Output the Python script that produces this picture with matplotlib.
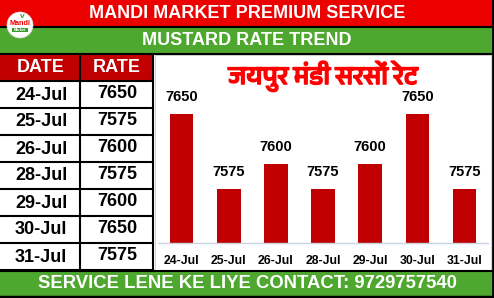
import matplotlib
matplotlib.use("Agg")
import matplotlib.pyplot as plt
from matplotlib.patches import Rectangle, Circle
from matplotlib import font_manager
import matplotlib.patheffects as pe

# data
dates = ["24-Jul", "25-Jul", "26-Jul", "28-Jul", "29-Jul", "30-Jul", "31-Jul"]
rates = [7650, 7575, 7600, 7575, 7600, 7650, 7575]

title_top = "MANDI MARKET PREMIUM SERVICE"
title_sub = "MUSTARD RATE TREND"
chart_title = "जयपुर मंडी सरसों रेट"
footer = "SERVICE LENE KE LIYE CONTACT: 9729757540"

RED = "#ec0000"
DARK_RED = "#c00000"
GREEN = "#4ea72e"

# look for a font that can draw devanagari
deva = []
for f in font_manager.fontManager.ttflist:
    n = f.name.lower()
    if "devanagari" in n or "lohit" in n or "mukta" in n or "mangal" in n or "hind" in n:
        deva.append(f.name)
deva = sorted(set(deva))
hindi_family = deva + ["DejaVu Sans"]

plt.rcParams["font.family"] = ["Liberation Sans", "DejaVu Sans"]

W, H = 494, 298
fig = plt.figure(figsize=(W / 100, H / 100), dpi=100)

# full-figure overlay in pixel coords
bg = fig.add_axes([0, 0, 1, 1])
bg.set_xlim(0, W)
bg.set_ylim(H, 0)
bg.axis("off")

def box(x, y, w, h, fc, ec="none", lw=0, z=1):
    bg.add_patch(Rectangle((x, y), w, h, facecolor=fc, edgecolor=ec, linewidth=lw, zorder=z))

# banners
box(0, 0, W, 27, RED)
box(0, 27, W, 27, GREEN)
bg.plot([0, W], [26.5, 26.5], color="black", lw=1.5, zorder=3)
bg.plot([0, W], [54, 54], color="black", lw=1.5, zorder=3)
bg.text(247, 13.5, title_top, color="white", fontsize=13, fontweight="bold",
        ha="center", va="center", zorder=4)
bg.text(247, 40.5, title_sub, color="white", fontsize=13, fontweight="bold",
        ha="center", va="center", zorder=4)

# logo
bg.add_patch(Circle((20, 25), 13, facecolor="white", edgecolor="#dddddd", lw=0.5, zorder=5))
bg.text(20, 23.5, "Mandi", color=RED, fontsize=5.2, fontweight="bold",
        ha="center", va="center", zorder=6)
bg.add_patch(Rectangle((12, 27.5), 16, 4.5, facecolor="#3a9a2a", zorder=6))
bg.text(20, 29.8, "Market", color="white", fontsize=2.8, fontweight="bold",
        ha="center", va="center", zorder=7)
bg.text(22, 16.5, "v", color="#3a9a2a", fontsize=6, fontweight="bold",
        ha="center", va="center", zorder=6)

# table
row_top = 55
header_h = 26
row_h = 27
col_x = [0, 80, 153]
box(0, row_top, col_x[2], header_h, DARK_RED)
bg.text(41, row_top + header_h / 2, "DATE", color="white", fontsize=13,
        fontweight="bold", ha="center", va="center", zorder=4)
bg.text(117, row_top + header_h / 2, "RATE", color="white", fontsize=13,
        fontweight="bold", ha="center", va="center", zorder=4)
y0 = row_top + header_h
for i, (d, r) in enumerate(zip(dates, rates)):
    y = y0 + i * row_h
    box(0, y, col_x[2], row_h, "white")
    bg.text(41, y + row_h / 2 + 0.5, d, color="black", fontsize=13,
            fontweight="bold", ha="center", va="center", zorder=4)
    bg.text(117, y + row_h / 2 - 1, str(r), color="black", fontsize=13,
            fontweight="bold", ha="center", va="center", zorder=4)
    bg.plot([0, col_x[2]], [y, y], color="black", lw=1.5, zorder=3)
y_end = y0 + len(dates) * row_h
bg.plot([0, col_x[2]], [y_end, y_end], color="black", lw=1.5, zorder=3)
bg.plot([col_x[1], col_x[1]], [row_top, y_end], color="black", lw=1.5, zorder=3)
bg.plot([col_x[2], col_x[2]], [row_top, y_end], color="black", lw=1.5, zorder=3)

# chart panel
box(155, 55, 336, y_end - 55, "white", ec="#cccccc", lw=0.6)

# footer
box(0, y_end + 1, W, H - y_end - 3, GREEN)
bg.plot([0, W], [y_end + 1, y_end + 1], color="black", lw=1.5, zorder=3)
bg.text(247, 283.5, footer, color="white", fontsize=13.3, fontweight="bold",
        ha="center", va="center", zorder=4)

# outer border right / bottom
bg.plot([W - 1.5, W - 1.5], [0, H], color="black", lw=2, zorder=8)
bg.plot([0, W], [H - 1.5, H - 1.5], color="black", lw=2.5, zorder=8)

# bar chart
base_y = 243
top_y = 55
ax = fig.add_axes([158 / W, (H - base_y) / H, 330 / W, (base_y - top_y) / H])
ax.patch.set_alpha(0)
x = range(len(dates))
bars = ax.bar(x, rates, width=0.5, color=DARK_RED, zorder=2)
ax.set_ylim(7521, 7521 + (base_y - top_y))
ax.set_xlim(-0.5, len(dates) - 0.5)
for b, r in zip(bars, rates):
    ax.annotate(str(r), (b.get_x() + b.get_width() / 2, r), xytext=(0, 7),
                textcoords="offset points", ha="center", va="bottom",
                fontsize=10.5, fontweight="bold", color="black")
ax.set_xticks(list(x))
ax.set_xticklabels(dates, fontsize=8.8, fontweight="bold")
ax.tick_params(axis="x", length=0, pad=8.5)
ax.set_yticks([])
for s in ["top", "right", "left"]:
    ax.spines[s].set_visible(False)
ax.spines["bottom"].set_color("#c8d4e4")
ax.spines["bottom"].set_linewidth(1)

fig.text(323 / W, 1 - 76 / H, chart_title, color="#ff0000", fontsize=18.5,
         fontweight="bold", ha="center", va="center", family=hindi_family,
         path_effects=[pe.withStroke(linewidth=1.2, foreground="#ff0000")])

fig.savefig("out.png", dpi=100)
